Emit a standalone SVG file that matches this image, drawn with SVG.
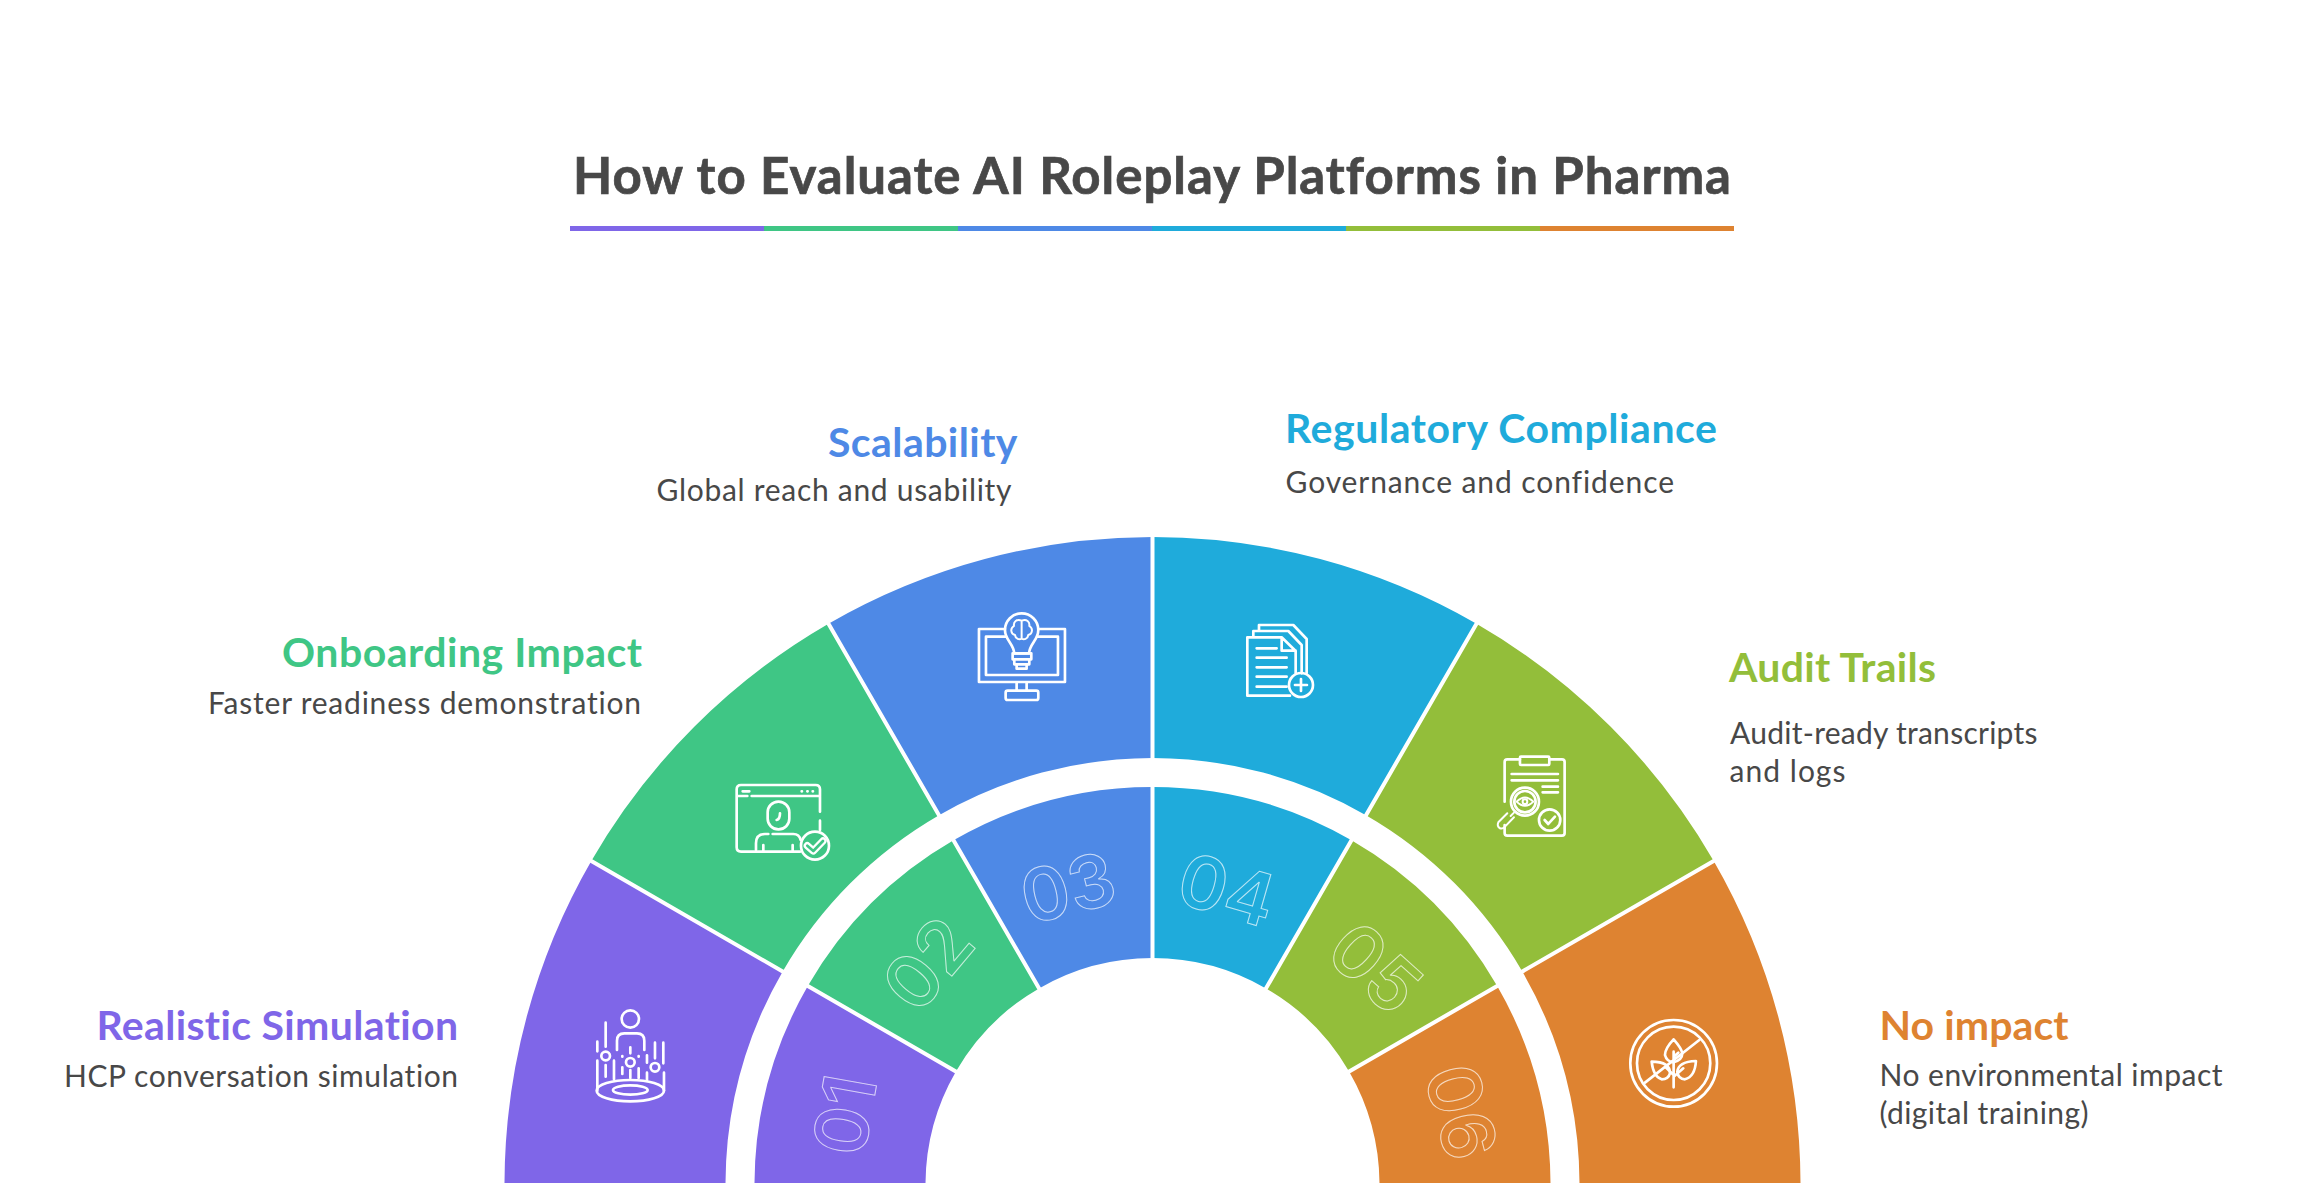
<svg xmlns="http://www.w3.org/2000/svg" width="2305" height="1188" viewBox="0 0 2305 1188">
<style>
text{font-family:Lato,"Liberation Sans",sans-serif;font-variant-ligatures:none}
.t{font-size:51px;font-weight:700;fill:#484848;stroke:#484848;stroke-width:.7}
.h{font-size:41px;font-weight:700}
.d{font-size:30px;fill:#484848}
.n{font-family:Inter,"Liberation Sans",sans-serif;font-size:73px;font-weight:600;fill:none;stroke:#fff;stroke-opacity:.7;stroke-width:1;text-anchor:middle}
.i{fill:none;stroke:#fff;stroke-width:8;stroke-linecap:round;stroke-linejoin:round}
.c1{fill:#7F66E8}.c2{fill:#3FC685}.c3{fill:#4E89E6}.c4{fill:#1FABDB}.c5{fill:#93BE3A}.c6{fill:#DE8331}
</style>
<rect width="2305" height="1188" fill="#fff"/>
<g id="title">
<text class="t" x="573" y="193.5" textLength="1158">How to Evaluate AI Roleplay Platforms in Pharma</text>
<rect class="c1" x="570" y="226" width="194" height="5"/><rect class="c2" x="764" y="226" width="194" height="5"/><rect class="c3" x="958" y="226" width="194" height="5"/><rect class="c4" x="1152" y="226" width="194" height="5"/><rect class="c5" x="1346" y="226" width="194" height="5"/><rect class="c6" x="1540" y="226" width="194" height="5"/>
</g>
<g id="node-1">
<path class="c1" d="M504.5 1183A648 648 0 0 1 591.3 861L782.7 971.5A427 427 0 0 0 725.5 1183Z"/>
<path class="c1" d="M754.5 1183A398 398 0 0 1 807.8 986L955.9 1071.5A227 227 0 0 0 925.5 1183Z"/>
<text class="n" transform="translate(845 1115) rotate(-80)" y="26">01</text>
<text class="h" x="96.5" y="1039.5" textLength="361.5" fill="#7F66E8">Realistic Simulation</text>
<text class="d" x="64" y="1086.5" textLength="394">HCP conversation simulation</text>
<g class="i" transform="translate(500 850) scale(.3333)">
<circle cx="391" cy="507" r="26"/><path d="M351 600V572Q351 550 373 550H411Q433 550 433 572V600M317 518V590M292 575V604M317 645V680M342 632V688M391 592V610M367 618V620M416 618V620M465 578V625M490 578V640M441 616V638M367 652V672M391 660V684M416 655V684M441 668V690M292 632V722M492 668V722"/>
<circle cx="317" cy="618" r="13"/><circle cx="391" cy="637" r="13"/><circle cx="465" cy="652" r="13"/>
<ellipse cx="391" cy="722" rx="101" ry="32"/><ellipse cx="391" cy="720" rx="52" ry="14"/>
</g>
</g>
<g id="node-2">
<path class="c2" d="M591.3 861A648 648 0 0 1 828.5 623.8L939 815.2A427 427 0 0 0 782.7 971.5Z"/>
<path class="c2" d="M807.8 986A398 398 0 0 1 953.5 840.3L1039 988.4A227 227 0 0 0 955.9 1071.5Z"/>
<text class="n" transform="translate(928 964) rotate(-50)" y="26">02</text>
<text class="h" x="282" y="666.5" textLength="360" fill="#3FC685">Onboarding Impact</text>
<text class="d" x="208" y="714" textLength="433">Faster readiness demonstration</text>
<g class="i" transform="translate(700 580) scale(.3333)">
<path d="M360 695V628Q360 615 347 615H123Q110 615 110 628V802Q110 815 123 815H300M360 722V750M115 648H142M155 648H360M128 634H148M305 634H306M322 634H323M338 634H339"/>
<rect x="203" y="665" width="65" height="83" rx="32"/><path d="M240 700Q240 718 230 720M168 810V790Q168 762 195 762H205M218 762H280Q298 762 302 780M190 795V812M278 795V812"/>
<circle cx="345" cy="797" r="42"/><path d="M322 797L340 813L369 783" stroke-width="22"/><path d="M322 797L340 813L369 783" stroke="#3FC685" stroke-width="8"/>
</g>
</g>
<g id="node-3">
<path class="c3" d="M828.5 623.8A648 648 0 0 1 1152.5 537V758A427 427 0 0 0 939 815.2Z"/>
<path class="c3" d="M953.5 840.3A398 398 0 0 1 1152.5 787V958A227 227 0 0 0 1039 988.4Z"/>
<text class="n" transform="translate(1068 888) rotate(-14)" y="26">03</text>
<text class="h" x="828" y="456.5" textLength="189.5" fill="#4E89E6">Scalability</text>
<text class="d" x="656.5" y="500.5" textLength="355">Global reach and usability</text>
<g class="i" transform="translate(700 580) scale(.3333)">
<path d="M915 147H837V306H1095V147H1015M917 170H858V285H1074V170H1012M950 306V332M980 306V332"/>
<rect x="917" y="332" width="98" height="28" rx="6"/>
<path d="M965 100A50 50 0 0 1 1015 150C1015 180 990 190 987 220H943C940 190 915 180 915 150A50 50 0 0 1 965 100Z"/>
<path d="M938 220H994V238H938ZM943 238H988V253H943ZM950 253H980V266H950Z"/>
<path d="M965 122V176M965 122C950 116 940 125 942 138C930 145 932 162 945 165C947 178 958 180 965 176C972 180 983 178 985 165C998 162 1000 145 988 138C990 125 980 116 965 122Z" stroke-width="6"/>
</g>
</g>
<g id="node-4">
<path class="c4" d="M1152.5 537A648 648 0 0 1 1476.5 623.8L1366 815.2A427 427 0 0 0 1152.5 758Z"/>
<path class="c4" d="M1152.5 787A398 398 0 0 1 1351.5 840.3L1266 988.4A227 227 0 0 0 1152.5 958Z"/>
<text class="n" transform="translate(1227 890) rotate(16)" y="26">04</text>
<text class="h" x="1285" y="442.5" textLength="432" fill="#1FABDB">Regulatory Compliance</text>
<text class="d" x="1285.5" y="492.5" textLength="388.5">Governance and confidence</text>
<g class="i" transform="translate(1150 580) scale(.3333)" stroke-linecap="butt">
<path d="M420 347H292V172H395L437 213V280M395 175V212H437M310 170V153H415L455 195V280M327 152V135H430L470 177V280M320 205H380M320 233H410M320 262H410M320 290H410M320 320H410"/>
<circle cx="453" cy="315" r="36"/><path d="M453 297V333M435 315H471"/>
</g>
</g>
<g id="node-5">
<path class="c5" d="M1476.5 623.8A648 648 0 0 1 1713.7 861L1522.3 971.5A427 427 0 0 0 1366 815.2Z"/>
<path class="c5" d="M1351.5 840.3A398 398 0 0 1 1497.2 986L1349.1 1071.5A227 227 0 0 0 1266 988.4Z"/>
<text class="n" transform="translate(1375 968) rotate(42)" y="26">05</text>
<text class="h" x="1729" y="681.5" textLength="207" fill="#93BE3A">Audit Trails</text>
<text class="d" x="1730" y="744" textLength="307.5">Audit-ready transcripts</text>
<text class="d" x="1729.5" y="781.5" textLength="116">and logs</text>
<g class="i" transform="translate(1150 580) scale(.3333)">
<path d="M1110 538H1072Q1064 538 1064 546V665M1064 735V759Q1064 767 1072 767H1236Q1244 767 1244 759V546Q1244 538 1236 538H1198"/>
<rect x="1110" y="530" width="88" height="25" rx="3"/>
<path d="M1085 582H1224M1085 601H1224M1178 620H1224M1178 637H1224"/>
<circle cx="1125" cy="665" r="42"/><circle cx="1125" cy="665" r="32"/>
<path d="M1100 665Q1125 640 1150 665Q1125 690 1100 665Z" stroke-width="6"/><circle cx="1125" cy="665" r="7" stroke-width="6"/>
<path d="M1092 698L1082 708M1072 700L1045 727Q1040 738 1050 745Q1058 748 1065 740L1092 712" stroke-width="6"/>
<circle cx="1199" cy="720" r="32"/><path d="M1184 720L1195 732L1215 710"/>
</g>
</g>
<g id="node-6">
<path class="c6" d="M1713.7 861A648 648 0 0 1 1800.5 1183H1579.5A427 427 0 0 0 1522.3 971.5Z"/>
<path class="c6" d="M1497.2 986A398 398 0 0 1 1550.5 1183H1379.5A227 227 0 0 0 1349.1 1071.5Z"/>
<text class="n" transform="translate(1461 1112) rotate(75)" y="26">06</text>
<text class="h" x="1879.5" y="1040" textLength="189" fill="#DE8331">No impact</text>
<text class="d" x="1879.5" y="1086" textLength="343">No environmental impact</text>
<text class="d" x="1879.5" y="1124" textLength="209">(digital training)</text>
<g class="i" transform="translate(1330 860) scale(.3333)">
<circle cx="1031" cy="610" r="130"/><circle cx="1031" cy="610" r="110"/>
<path d="M945 668L1108 540M1031 575V682M1031 645L1005 620M1031 650L1060 625M1031 590L1045 578"/>
<path d="M1031 538Q1005 565 1005 585Q1010 605 1031 607Q1057 600 1057 580Q1055 565 1031 538ZM965 605Q1020 605 1020 640Q1015 658 995 658Q970 650 965 605ZM1098 603Q1045 605 1042 635Q1045 658 1065 658Q1095 650 1098 603Z"/>
</g>
</g>
<g id="connectors" stroke="#fff" stroke-width="4" fill="none">
<path d="M589.6 860L784.4 972.5M806.1 985L957.6 1072.5M827.5 622.1L940 816.9M952.5 838.6L1040 990.1M1152.5 535V760M1152.5 785V960M1477.5 622.1L1365 816.9M1352.5 838.6L1265 990.1M1715.4 860L1520.6 972.5M1498.9 985L1347.4 1072.5"/>
</g>
</svg>
